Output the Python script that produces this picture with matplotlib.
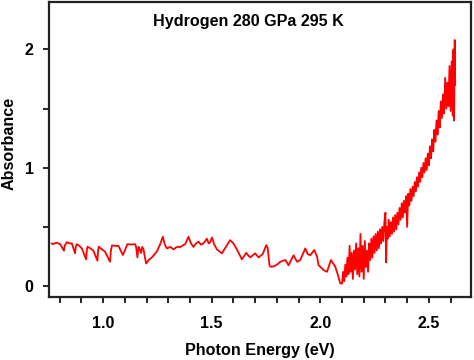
import numpy as np
import matplotlib
matplotlib.use("Agg")
import matplotlib.pyplot as plt
from matplotlib.ticker import MultipleLocator

# Absorbance spectrum
# smooth part (sawtooth fringes and plateau)
energy_low = [0.764, 0.768, 0.786, 0.802, 0.820, 0.823, 0.833, 0.845, 0.856, 0.871,
              0.874, 0.879, 0.890, 0.902, 0.922, 0.925, 0.928, 0.940, 0.955, 0.974,
              0.977, 0.980, 0.995, 1.009, 1.032, 1.036, 1.041, 1.055, 1.071, 1.091,
              1.100, 1.112, 1.130, 1.147, 1.152, 1.158, 1.163, 1.167, 1.175, 1.180,
              1.186, 1.198, 1.210, 1.224, 1.247, 1.262, 1.275, 1.284, 1.294, 1.310,
              1.324, 1.340, 1.355, 1.378, 1.393, 1.405, 1.416, 1.428, 1.439, 1.450,
              1.462, 1.478, 1.486, 1.493, 1.501, 1.512, 1.524, 1.547, 1.565, 1.585,
              1.600, 1.616, 1.639, 1.659, 1.677, 1.700, 1.716, 1.735, 1.751, 1.758,
              1.766, 1.770, 1.785, 1.800, 1.816, 1.839, 1.854, 1.877, 1.893, 1.908,
              1.931, 1.942, 1.954, 1.972, 1.985, 1.992, 2.015, 2.031, 2.049, 2.069,
              2.080, 2.092]
absorb_low = [0.36, 0.354, 0.366, 0.354, 0.298, 0.34, 0.371, 0.36, 0.36, 0.276,
              0.33, 0.354, 0.34, 0.318, 0.225, 0.30, 0.332, 0.32, 0.30, 0.214,
              0.30, 0.332, 0.31, 0.29, 0.205, 0.30, 0.343, 0.34, 0.338, 0.262,
              0.30, 0.354, 0.35, 0.354, 0.33, 0.242, 0.33, 0.318, 0.28, 0.33,
              0.31, 0.19, 0.22, 0.24, 0.29, 0.35, 0.416, 0.35, 0.318, 0.33,
              0.31, 0.33, 0.33, 0.354, 0.416, 0.36, 0.33, 0.36, 0.375, 0.35,
              0.36, 0.40, 0.36, 0.37, 0.41, 0.35, 0.31, 0.276, 0.33, 0.388,
              0.36, 0.31, 0.225, 0.28, 0.242, 0.276, 0.242, 0.27, 0.346, 0.32,
              0.177, 0.163, 0.165, 0.18, 0.205, 0.22, 0.175, 0.26, 0.205, 0.22,
              0.318, 0.27, 0.26, 0.304, 0.25, 0.177, 0.135, 0.12, 0.22, 0.163,
              0.10, 0.023]

# noisy absorption edge
energy_edge = [2.100, 2.105, 2.110, 2.115, 2.120, 2.125, 2.130, 2.135, 2.140, 2.145,
               2.150, 2.155, 2.160, 2.165, 2.170, 2.175, 2.180, 2.185, 2.190, 2.195,
               2.200, 2.205, 2.210, 2.215, 2.220, 2.225, 2.230, 2.235, 2.240, 2.245,
               2.250, 2.255, 2.260, 2.265, 2.270, 2.275, 2.280, 2.285, 2.290, 2.295,
               2.300, 2.303, 2.307, 2.310, 2.315, 2.320, 2.325, 2.330, 2.335, 2.340,
               2.345, 2.350, 2.355, 2.360, 2.365, 2.370, 2.375, 2.380, 2.385, 2.390,
               2.395, 2.400, 2.405, 2.410, 2.415, 2.420, 2.425, 2.430, 2.435, 2.440,
               2.445, 2.450, 2.455, 2.460, 2.465, 2.470, 2.475, 2.480, 2.485, 2.490,
               2.495, 2.500, 2.505, 2.510, 2.515, 2.520, 2.525, 2.530, 2.535, 2.540,
               2.545, 2.550, 2.555, 2.560, 2.565, 2.570, 2.575, 2.580, 2.585, 2.590,
               2.595, 2.600, 2.605, 2.610, 2.613, 2.616, 2.619, 2.621]
absorb_edge = [0.02, 0.12, 0.04, 0.18, 0.08, 0.24, 0.10, 0.34, 0.12, 0.28,
               0.06, 0.30, 0.14, 0.36, 0.10, 0.32, 0.08, 0.44, 0.12, 0.34,
               0.06, 0.38, 0.16, 0.30, 0.12, 0.36, 0.22, 0.40, 0.24, 0.42,
               0.28, 0.44, 0.30, 0.46, 0.32, 0.48, 0.36, 0.50, 0.38, 0.54,
               0.62, 0.20, 0.50, 0.40, 0.56, 0.42, 0.54, 0.44, 0.58, 0.46,
               0.60, 0.48, 0.62, 0.52, 0.66, 0.56, 0.70, 0.58, 0.72, 0.62,
               0.76, 0.50, 0.78, 0.68, 0.82, 0.72, 0.84, 0.76, 0.88, 0.80,
               0.92, 0.84, 0.96, 0.88, 1.00, 0.92, 1.04, 0.96, 1.08, 0.98,
               1.12, 1.02, 1.18, 1.08, 1.24, 1.14, 1.32, 1.22, 1.40, 1.28,
               1.48, 1.34, 1.56, 1.42, 1.62, 1.46, 1.76, 1.50, 1.72, 1.52,
               1.86, 1.48, 1.90, 1.44, 2.00, 1.40, 2.08, 1.70]

energy = np.array(energy_low + energy_edge)
absorb = np.array(absorb_low + absorb_edge)

plt.rcParams["font.family"] = ["Liberation Sans", "DejaVu Sans"]
plt.rcParams["font.weight"] = "bold"

fig = plt.figure(figsize=(4.74, 3.6), dpi=100)
ax = fig.add_axes([0.1034, 0.175, 0.8903, 0.819])

ax.plot(energy, absorb, color="#ff0000", lw=1.3)

ax.set_xlim(0.751, 2.694)
ax.set_ylim(-0.093, 2.40)

ax.xaxis.set_major_locator(MultipleLocator(0.5))
ax.xaxis.set_minor_locator(MultipleLocator(0.1))
ax.yaxis.set_major_locator(MultipleLocator(1))
ax.yaxis.set_minor_locator(MultipleLocator(0.5))
ax.xaxis.set_major_formatter(plt.FormatStrFormatter("%.1f"))
ax.tick_params(which="both", direction="out", length=4, width=1.2, labelsize=11.5, colors="black")
ax.tick_params(axis="x", pad=10)
ax.tick_params(axis="y", pad=7)

for s in ax.spines.values():
    s.set_linewidth(1.6)
    s.set_color("#222222")

ax.text(1.668, 2.236, "Hydrogen 280 GPa 295 K", ha="center", va="center",
        fontsize=11.6, fontweight="bold")
ax.set_xlabel("Photon Energy (eV)", fontsize=11.6, fontweight="bold", labelpad=8)
ax.set_ylabel("Absorbance", fontsize=11.6, fontweight="bold", va="center")
ax.yaxis.set_label_coords(-0.094, 0.52)

fig.savefig("out.png", dpi=100)
